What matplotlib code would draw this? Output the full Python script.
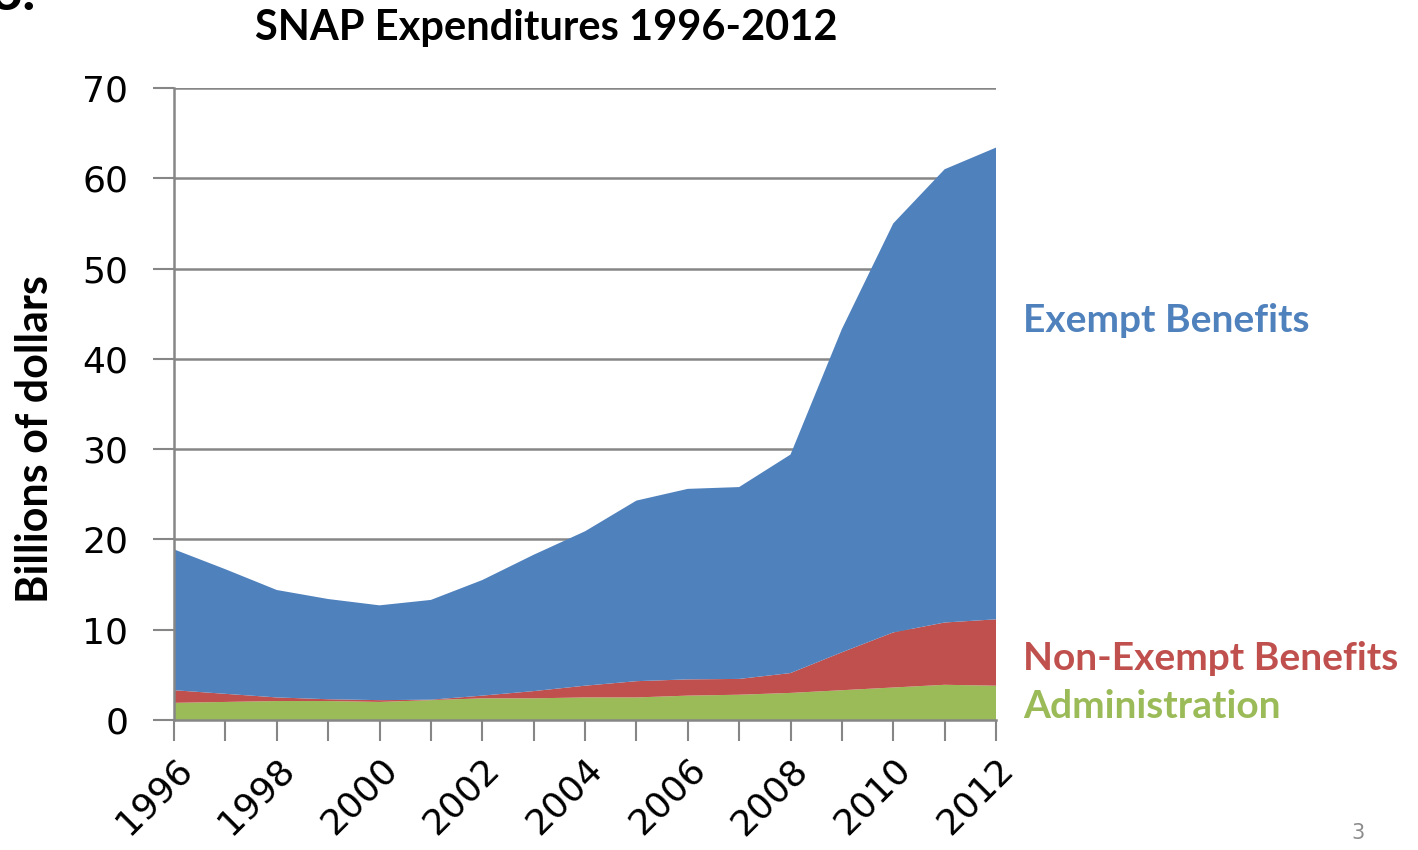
import matplotlib
matplotlib.use('Agg')
import matplotlib.pyplot as plt

years = list(range(1996, 2013))
admin = [1.9, 2.0, 2.1, 2.1, 2.0, 2.2, 2.4, 2.4, 2.5, 2.5, 2.7, 2.8, 3.0, 3.3, 3.6, 3.9, 3.8]
non_exempt = [1.4, 0.9, 0.4, 0.2, 0.2, 0.05, 0.3, 0.8, 1.3, 1.8, 1.8, 1.75, 2.2, 4.2, 6.1, 6.9, 7.35]
exempt = [15.6, 13.8, 11.9, 11.1, 10.5, 11.05, 12.8, 15.1, 17.1, 20.0, 21.1, 21.25, 24.2, 35.8, 45.3, 50.2, 52.25]

blue = '#4F81BD'
red = '#C0504D'
green = '#9BBB59'
grey = '#868686'
bold_font = ['Lato', 'DejaVu Sans']

fig = plt.figure(figsize=(14.18, 8.5), dpi=100)
ax = fig.add_axes([174 / 1418, 130 / 850, 822 / 1418, 632 / 850])

ax.stackplot(years, admin, non_exempt, exempt, colors=[green, red, blue], linewidth=0, zorder=2)

ax.set_xlim(1996, 2012)
ax.set_ylim(0, 70)
ax.set_yticks(range(0, 71, 10))
ax.set_xticks(years)
ax.set_xticklabels([str(y) if y % 2 == 0 else '' for y in years],
                   rotation=45, ha='right', rotation_mode='anchor')
ax.tick_params(axis='both', direction='out', length=15, width=1.5, color=grey, labelsize=26)
ax.tick_params(axis='x', pad=8)
ax.tick_params(axis='y', pad=18)

ax.grid(axis='y', color=grey, linewidth=1.8, zorder=0)
ax.set_axisbelow(True)
for side in ['top', 'right']:
    ax.spines[side].set_visible(False)
for side in ['left', 'bottom']:
    ax.spines[side].set_color(grey)
    ax.spines[side].set_linewidth(1.8)

fig.text(35 / 1418, 1 - 439 / 850, 'Billions of dollars', fontsize=31, fontweight='bold',
         family=bold_font, rotation=90, ha='center', va='center')
fig.text(546 / 1418, 1 - 28 / 850, 'SNAP Expenditures 1996-2012', fontsize=30, fontweight='bold',
         family=bold_font, ha='center', va='center')

fig.text(1023 / 1418, 1 - 321 / 850, 'Exempt Benefits', color=blue, fontsize=28,
         fontweight='bold', family=bold_font, va='center')
fig.text(1023 / 1418, 1 - 658 / 850, 'Non-Exempt Benefits', color=red, fontsize=28,
         fontweight='bold', family=bold_font, va='center')
fig.text(1023 / 1418, 1 - 706 / 850, 'Administration', color=green, fontsize=28,
         fontweight='bold', family=bold_font, va='center')

fig.text(1358 / 1418, 1 - 833 / 850, '3', color='#8C8C8C', fontsize=15, ha='center', va='center')
fig.text(36 / 1418, 1 - 10 / 850, '3.', fontsize=40, fontweight='bold', family=bold_font,
         ha='right', va='baseline')

fig.savefig('out.png', dpi=100, facecolor='white')
